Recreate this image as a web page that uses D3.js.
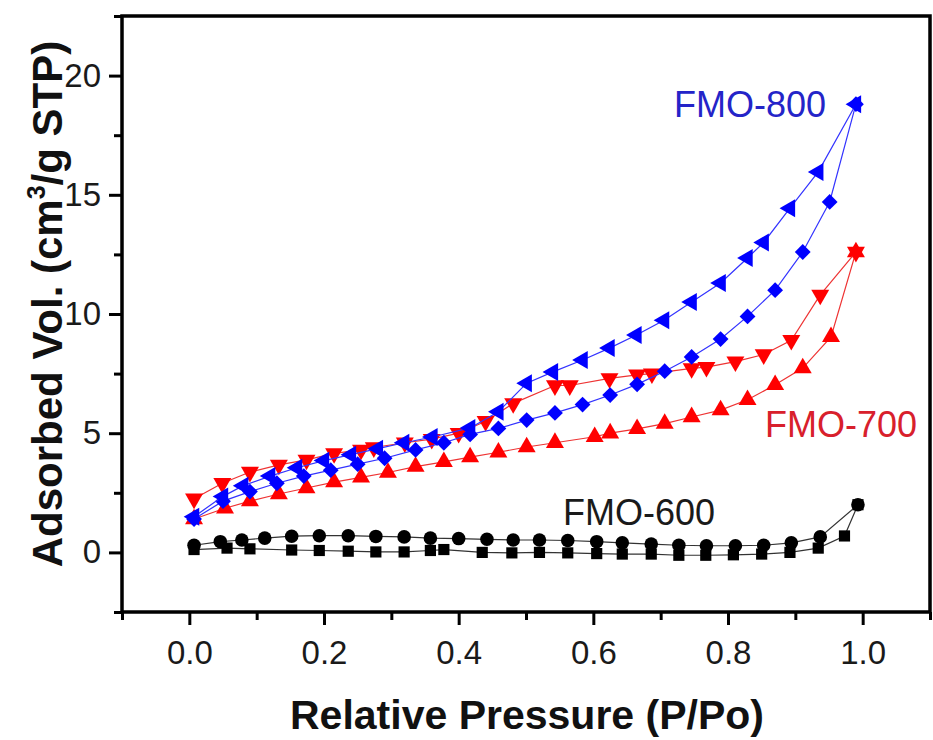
<!DOCTYPE html>
<html>
<head>
<meta charset="utf-8">
<script src="https://cdn.jsdelivr.net/npm/d3@7"></script>
<style>
  body { margin: 0; background: #fff; }
  svg { display: block; font-family: "Liberation Sans", Arial, sans-serif; }
</style>
</head>
<body>
<div id="chart"></div>
<script>
// isotherm data: [P/Po, volume]
const fmo800Ads = [[0.007,1.4],[0.05,2.15],[0.09,2.55],[0.13,2.9],[0.17,3.2],[0.21,3.45],[0.25,3.7],[0.29,3.95],
  [0.336,4.3],[0.378,4.6],[0.417,4.95],[0.459,5.2],[0.501,5.55],[0.543,5.85],[0.584,6.2],[0.625,6.6],[0.665,7.05],
  [0.706,7.6],[0.746,8.2],[0.789,8.95],[0.829,9.9],[0.87,11.0],[0.911,12.6],[0.951,14.7],[0.99,18.8]];
const fmo800Des = [[0.99,18.8],[0.934,15.96],[0.892,14.44],[0.853,13.0],[0.829,12.35],[0.789,11.3],[0.746,10.5],
  [0.705,9.74],[0.664,9.12],[0.624,8.57],[0.584,8.07],[0.54,7.57],[0.501,7.1],[0.459,5.9],[0.417,5.22],[0.361,4.84],
  [0.319,4.6],[0.28,4.35],[0.24,4.1],[0.2,3.85],[0.16,3.55],[0.12,3.2],[0.08,2.8],[0.05,2.35],[0.007,1.5]];

const fmo700Ads = [[0.007,1.4],[0.053,1.85],[0.09,2.15],[0.133,2.45],[0.174,2.7],[0.215,2.95],[0.255,3.15],
  [0.295,3.35],[0.336,3.6],[0.378,3.8],[0.417,4.0],[0.459,4.2],[0.501,4.42],[0.543,4.6],[0.602,4.85],[0.625,5.0],
  [0.665,5.18],[0.706,5.4],[0.746,5.68],[0.789,5.97],[0.829,6.4],[0.87,7.03],[0.911,7.73],[0.953,9.04],[0.99,12.6]];
const fmo700Des = [[0.99,12.6],[0.937,10.8],[0.894,8.9],[0.853,8.3],[0.811,8.0],[0.768,7.77],[0.746,7.72],
  [0.687,7.5],[0.665,7.45],[0.624,7.3],[0.565,7.0],[0.543,7.0],[0.481,6.25],[0.44,5.5],[0.4,5.0],[0.36,4.75],
  [0.32,4.6],[0.274,4.4],[0.255,4.3],[0.215,4.15],[0.174,3.88],[0.133,3.67],[0.09,3.37],[0.049,2.9],[0.007,2.25]];

const fmo600Ads = [[0.007,0.12],[0.056,0.18],[0.09,0.15],[0.152,0.1],[0.193,0.08],[0.236,0.05],[0.277,0.02],
  [0.319,0.02],[0.358,0.08],[0.378,0.12],[0.435,0.0],[0.479,-0.02],[0.52,0.0],[0.562,-0.02],[0.605,-0.05],
  [0.643,-0.07],[0.686,-0.07],[0.727,-0.12],[0.767,-0.12],[0.808,-0.1],[0.85,-0.07],[0.892,0.0],[0.934,0.18],
  [0.973,0.69],[0.993,2.0]];
const fmo600Des = [[0.993,2.0],[0.937,0.65],[0.894,0.4],[0.853,0.3],[0.811,0.28],[0.768,0.28],[0.727,0.3],
  [0.686,0.35],[0.643,0.4],[0.605,0.45],[0.562,0.5],[0.52,0.52],[0.481,0.52],[0.442,0.55],[0.4,0.58],[0.358,0.6],
  [0.319,0.65],[0.277,0.67],[0.236,0.7],[0.193,0.7],[0.152,0.68],[0.112,0.6],[0.078,0.52],[0.046,0.45],[0.007,0.3]];

const xTicks = [0, 0.2, 0.4, 0.6, 0.8, 1.0];
const xMinorTicks = [-0.1, 0.1, 0.3, 0.5, 0.7, 0.9, 1.1];
const yTicks = [0, 5, 10, 15, 20];
const yMinorTicks = [-2.5, 2.5, 7.5, 12.5, 17.5, 22.5];

const width = 933, height = 740;
const box = {left: 122, right: 930, top: 16, bottom: 612};

const svg = d3.select("#chart").append("svg")
  .attr("width", width)
  .attr("height", height);

const x = d3.scaleLinear().domain([-0.1, 1.1]).range([box.left, box.right]);
const y = d3.scaleLinear().domain([-2.5, 22.5]).range([box.bottom, box.top]);

// axes: major ticks with labels, minor ticks without
svg.append("g")
   .attr("transform", `translate(0,${box.bottom})`)
   .call(d3.axisBottom(x).tickValues(xMinorTicks).tickSize(8).tickFormat(""))
   .call(g => g.select(".domain").remove());
svg.append("g")
   .attr("transform", `translate(0,${box.bottom})`)
   .call(d3.axisBottom(x).tickValues(xTicks).tickSize(13).tickPadding(16).tickFormat(d3.format(".1f")))
   .call(g => g.select(".domain").remove())
   .call(g => g.selectAll("text").attr("font-size", 33).attr("fill", "#1a1a1a").attr("font-family", "Liberation Sans, Arial"));

svg.append("g")
   .attr("transform", `translate(${box.left},0)`)
   .call(d3.axisLeft(y).tickValues(yMinorTicks).tickSize(8).tickFormat(""))
   .call(g => g.select(".domain").remove());
svg.append("g")
   .attr("transform", `translate(${box.left},0)`)
   .call(d3.axisLeft(y).tickValues(yTicks).tickSize(13).tickPadding(8))
   .call(g => g.select(".domain").remove())
   .call(g => g.selectAll("text").attr("font-size", 33).attr("fill", "#1a1a1a").attr("font-family", "Liberation Sans, Arial"));

svg.selectAll(".tick line").attr("stroke", "#000").attr("stroke-width", 3);

const line = d3.line().x(d => x(d[0])).y(d => y(d[1]));

function drawBranch(data, color, lineColor, symbol, rotate, size) {
  svg.append("path")
     .datum(data)
     .attr("d", line)
     .attr("fill", "none")
     .attr("stroke", lineColor)
     .attr("stroke-width", 1.2);
  svg.append("g").selectAll("path")
     .data(data)
     .enter()
     .append("path")
     .attr("d", d3.symbol().type(symbol).size(size))
     .attr("transform", d => `translate(${x(d[0])},${y(d[1])}) rotate(${rotate})`)
     .attr("fill", color);
}

drawBranch(fmo600Ads, "#000", "#333", d3.symbolSquare, 0, 125);
drawBranch(fmo600Des, "#000", "#333", d3.symbolCircle, 0, 145);
drawBranch(fmo700Ads, "#f00", "#e33", d3.symbolTriangle, 0, 140);
drawBranch(fmo700Des, "#f00", "#e33", d3.symbolTriangle, 180, 140);
drawBranch(fmo800Ads, "#0000ff", "#33f", d3.symbolSquare, 45, 125);
drawBranch(fmo800Des, "#0000ff", "#33f", d3.symbolTriangle, -90, 140);

// frame
svg.append("rect")
   .attr("x", box.left).attr("y", box.top)
   .attr("width", box.right - box.left).attr("height", box.bottom - box.top)
   .attr("fill", "none").attr("stroke", "#000").attr("stroke-width", 3.5);

// series labels
svg.append("text").attr("x", 674).attr("y", 117).attr("font-size", 36)
   .attr("fill", "#2424c8").text("FMO-800");
svg.append("text").attr("x", 765).attr("y", 437).attr("font-size", 36)
   .attr("fill", "#d8202c").text("FMO-700");
svg.append("text").attr("x", 563).attr("y", 525).attr("font-size", 36)
   .attr("fill", "#1a1a1a").text("FMO-600");

// axis titles
svg.append("text")
   .attr("x", 527).attr("y", 729)
   .attr("text-anchor", "middle")
   .attr("font-size", 41).attr("font-weight", "bold").attr("fill", "#111")
   .text("Relative Pressure (P/Po)");

const yTitle = svg.append("text")
   .attr("transform", "translate(62,304) rotate(-90)")
   .attr("text-anchor", "middle")
   .attr("font-size", 42).attr("font-weight", "bold").attr("fill", "#111");
yTitle.append("tspan").text("Adsorbed Vol. (cm");
yTitle.append("tspan").attr("font-size", 25).attr("dy", -17).text("3");
yTitle.append("tspan").attr("dy", 17).text("/g STP)");
</script>
</body>
</html>
